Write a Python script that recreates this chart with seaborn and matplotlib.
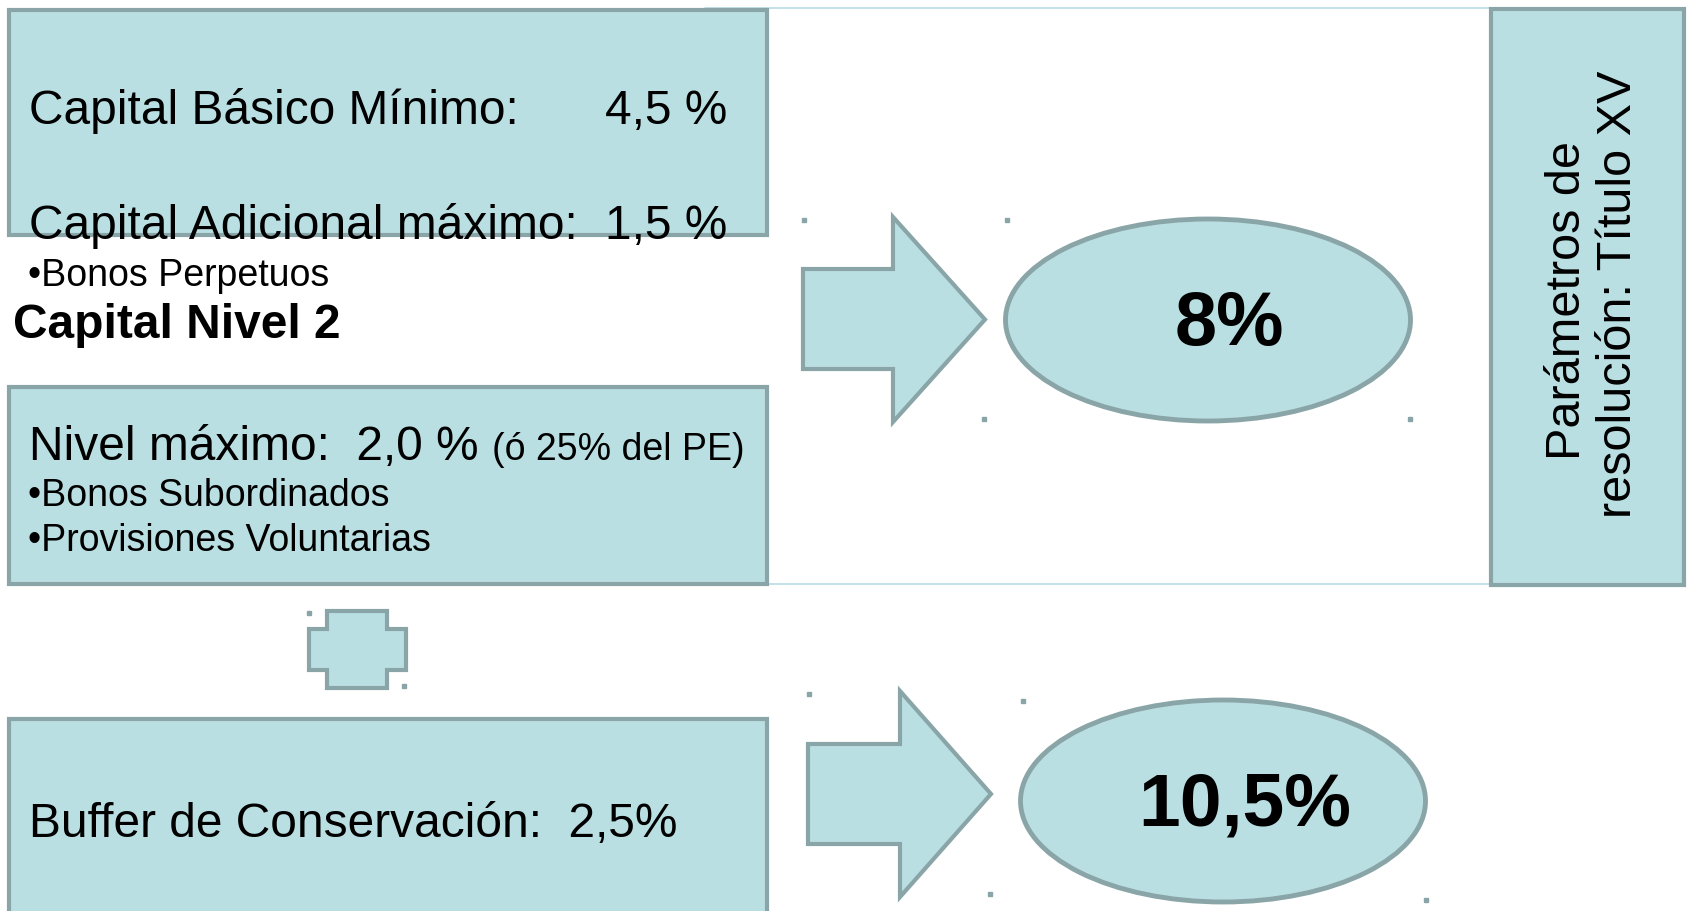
import matplotlib
matplotlib.use('Agg')
import matplotlib.pyplot as plt
import seaborn as sns
from matplotlib.patches import Rectangle, Ellipse, Polygon

# ---- data (texto del diagrama)
tier1_labels = ['Capital Básico Mínimo:', 'Capital Adicional máximo:']
tier1_values = ['4,5 %', '1,5 %']
tier1_items = ['Bonos Perpetuos']
tier2_title = 'Capital Nivel 2'
tier2_label = 'Nivel máximo:  2,0 %'
tier2_note = '(ó 25% del PE)'
tier2_items = ['Bonos Subordinados', 'Provisiones Voluntarias']
buffer_label = 'Buffer de Conservación:  2,5%'
totals = ['8%', '10,5%']
side_label = 'Parámetros de \nresolución: Título XV'

sns.set_theme(style='white')
plt.rcParams['font.family'] = ['Liberation Sans', 'DejaVu Sans']
plt.rcParams['text.color'] = 'black'

FILL = '#BADFE2'
EDGE = '#8AA5A7'
LIGHT = '#B8DCE1'

fig = plt.figure(figsize=(16.88, 9.11), dpi=100)
ax = fig.add_axes([0, 0, 1, 1])
ax.set_xlim(0, 1688)
ax.set_ylim(911, 0)
ax.axis('off')

# lineas finas (arriba y abajo) detras de las cajas
ax.plot([705, 1491], [8, 8], color=LIGHT, lw=1.2, zorder=1)
ax.plot([705, 1491], [584, 584], color=LIGHT, lw=1.2, zorder=1)

# cajas
def box(x, y, w, h):
    ax.add_patch(Rectangle((x, y), w, h, facecolor=FILL, edgecolor=EDGE, lw=3, zorder=2))

box(9, 10, 758, 225)      # capital nivel 1
box(9, 387, 758, 197)     # capital nivel 2
box(9, 719, 758, 220)     # buffer
box(1491, 9, 193, 576)    # parametros

# flechas
def arrow(x0, ys0, ys1, xh, yh0, yh1, xt):
    yc = (yh0 + yh1) / 2
    pts = [(x0, ys0), (xh, ys0), (xh, yh0), (xt, yc), (xh, yh1), (xh, ys1), (x0, ys1)]
    ax.add_patch(Polygon(pts, closed=True, facecolor=FILL, edgecolor=EDGE, lw=3, zorder=2))

arrow(803, 269, 369, 893, 217, 422, 985)
arrow(808, 744, 844, 900, 691, 897, 991)

# elipses
ax.add_patch(Ellipse((1208, 320), 405, 202, facecolor=FILL, edgecolor=EDGE, lw=3.5, zorder=2))
ax.add_patch(Ellipse((1223, 801), 405, 202, facecolor=FILL, edgecolor=EDGE, lw=3.5, zorder=2))

# signo +
plus = [(327, 611), (387, 611), (387, 629), (406, 629), (406, 670), (387, 670),
        (387, 688), (327, 688), (327, 670), (309, 670), (309, 629), (327, 629)]
ax.add_patch(Polygon(plus, closed=True, facecolor=FILL, edgecolor=EDGE, lw=3, zorder=2))

# puntos de seleccion
hx = [804, 1007, 984, 1410, 809, 1023, 990, 1426, 309, 404]
hy = [220, 220, 419, 419, 694, 701, 894, 900, 613, 686]
ax.plot(hx, hy, ls='none', marker='s', ms=3, color=EDGE, zorder=3)

# textos
big = 34.5
small = 27
ax.text(29, 124, tier1_labels[0], fontsize=big, va='baseline', zorder=4)
ax.text(605, 124, tier1_values[0], fontsize=big, va='baseline', zorder=4)
ax.text(29, 239, tier1_labels[1], fontsize=big, va='baseline', zorder=4)
ax.text(605, 239, tier1_values[1], fontsize=big, va='baseline', zorder=4)
ax.text(28, 286, '•' + tier1_items[0], fontsize=small, va='baseline', zorder=4)
ax.text(13, 338, tier2_title, fontsize=big, fontweight='bold', va='baseline', zorder=4)

ax.text(29, 460, tier2_label, fontsize=big, va='baseline', zorder=4)
ax.text(492, 460, tier2_note, fontsize=small, va='baseline', zorder=4)
for i, item in enumerate(tier2_items):
    ax.text(28, 506 + i * 45, '•' + item, fontsize=small, va='baseline', zorder=4)

ax.text(29, 837, buffer_label, fontsize=big, va='baseline', zorder=4)

ax.text(1229, 325, totals[0], fontsize=54.5, fontweight='bold', ha='center', va='center', zorder=4)
ax.text(1245, 806, totals[1], fontsize=54, fontweight='bold', ha='center', va='center', zorder=4)

ax.text(1593, 294, side_label, fontsize=35, rotation=90, ha='center', va='center',
        multialignment='center', linespacing=1.15, zorder=4)

fig.savefig('out.png', dpi=100)
